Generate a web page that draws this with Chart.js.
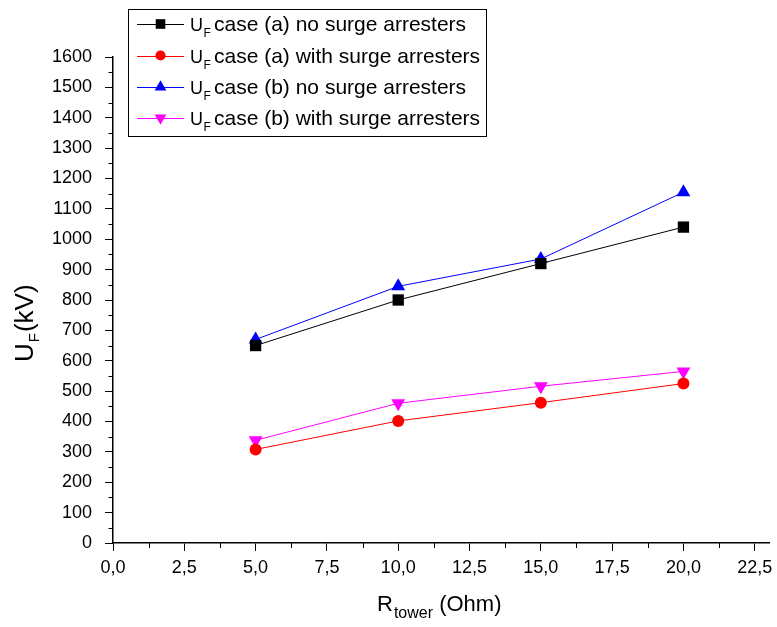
<!DOCTYPE html>
<html>
<head>
<meta charset="utf-8">
<script src="https://cdn.jsdelivr.net/npm/chart.js@4.4.1/dist/chart.umd.min.js"></script>
<style>
  html, body { margin: 0; padding: 0; background: #fff; }
  #wrap { position: relative; width: 777px; height: 627px; }
</style>
</head>
<body>
<div id="wrap"><canvas id="c" width="777" height="627"></canvas></div>
<script>
// ---- data ----
const rTower = [5, 10, 15, 20];
const caseA_noArr   = [650, 800, 920, 1040];
const caseA_withArr = [308, 402, 462, 525];
const caseB_noArr   = [670, 845, 935, 1155];
const caseB_withArr = [338, 460, 516, 565];
const seriesNames = [
  "case (a) no surge arresters",
  "case (a) with surge arresters",
  "case (b) no surge arresters",
  "case (b) with surge arresters"
];
const xTickValues = [0, 2.5, 5, 7.5, 10, 12.5, 15, 17.5, 20, 22.5];
const xTickLabels = ["0,0", "2,5", "5,0", "7,5", "10,0", "12,5", "15,0", "17,5", "20,0", "22,5"];
const yTickValues = [0,100,200,300,400,500,600,700,800,900,1000,1100,1200,1300,1400,1500,1600];
const yTickLabels = yTickValues.map(String);

const FONT = "'Liberation Sans', Arial, Helvetica, sans-serif";

const styles = [
  { color: '#000000', pointStyle: 'rect', radius: 8, rotation: 0 },
  { color: '#ff0000', pointStyle: 'circle', radius: 6, rotation: 0 },
  { color: '#0000ff', pointStyle: 'triangle', radius: 8, rotation: 0 },
  { color: '#ff00ff', pointStyle: 'triangle', radius: 8, rotation: 180 }
];
const seriesValues = [caseA_noArr, caseA_withArr, caseB_noArr, caseB_withArr];

const datasets = seriesValues.map((vals, i) => ({
  label: 'U_F ' + seriesNames[i],
  data: rTower.map((x, j) => ({ x: x, y: vals[j] })),
  showLine: true,
  borderColor: styles[i].color,
  backgroundColor: styles[i].color,
  borderWidth: 1,
  pointStyle: styles[i].pointStyle,
  pointRadius: styles[i].radius,
  pointRotation: styles[i].rotation,
  pointBorderWidth: 0,
  pointBackgroundColor: styles[i].color,
  pointBorderColor: styles[i].color,
  tension: 0
}));

const decorPlugin = {
  id: 'decor',
  afterDraw(chart) {
    const ctx = chart.ctx;
    const xs = chart.scales.x, ys = chart.scales.y;
    ctx.save();
    // minor ticks
    ctx.strokeStyle = '#000';
    ctx.lineWidth = 1;
    ctx.beginPath();
    for (let v = 50; v < 1600; v += 100) {
      const py = Math.round(ys.getPixelForValue(v)) + 0.5;
      ctx.moveTo(xs.left, py); ctx.lineTo(xs.left - 4.5, py);
    }
    for (let v = 1.25; v < 23; v += 2.5) {
      const px = Math.round(xs.getPixelForValue(v)) + 0.5;
      ctx.moveTo(px, ys.bottom); ctx.lineTo(px, ys.bottom + 5);
    }
    ctx.stroke();

    // axis titles
    ctx.fillStyle = '#000';
    ctx.textBaseline = 'alphabetic';
    ctx.textAlign = 'left';
    // x title: R_tower (Ohm)
    let x0 = 377, by = 611;
    ctx.font = '22px ' + FONT;
    ctx.fillText('R', x0, by);
    let w = ctx.measureText('R').width;
    ctx.font = '16px ' + FONT;
    ctx.fillText('tower', x0 + w + 1, by + 7);
    let w2 = ctx.measureText('tower').width;
    ctx.font = '22px ' + FONT;
    ctx.fillText(' (Ohm)', x0 + w + 1 + w2, by);

    // y title: U_F(kV) rotated
    ctx.save();
    ctx.translate(33, 362);
    ctx.rotate(-Math.PI / 2);
    ctx.font = '26px ' + FONT;
    ctx.fillText('U', 0, 0);
    w = ctx.measureText('U').width;
    ctx.font = '15px ' + FONT;
    ctx.fillText('F', w + 1, 6);
    w2 = ctx.measureText('F').width;
    ctx.font = '26px ' + FONT;
    ctx.fillText('(kV)', w + 1 + w2 + 1, 0);
    ctx.restore();

    // legend box
    ctx.lineWidth = 1;
    ctx.strokeStyle = '#000';
    ctx.fillStyle = '#fff';
    ctx.fillRect(128.5, 9.5, 358, 127);
    ctx.strokeRect(128.5, 9.5, 358, 127);
    const rows = [24, 55.5, 87, 118];
    rows.forEach((ry, i) => {
      const s = styles[i];
      ctx.strokeStyle = s.color;
      ctx.lineWidth = 1;
      ctx.beginPath();
      ctx.moveTo(137, Math.round(ry) + 0.5);
      ctx.lineTo(184, Math.round(ry) + 0.5);
      ctx.stroke();
      ctx.fillStyle = s.color;
      Chart.helpers.drawPoint(ctx, {
        pointStyle: s.pointStyle, radius: s.radius * 0.85, rotation: s.rotation, borderWidth: 0
      }, 160.5, ry);
      ctx.fillStyle = '#000';
      const tb = ry + 7;
      ctx.font = '18px ' + FONT;
      ctx.fillText('U', 190, tb);
      const uw = ctx.measureText('U').width;
      ctx.font = '12px ' + FONT;
      ctx.fillText('F', 190 + uw + 0.5, tb + 6);
      ctx.font = '21px ' + FONT;
      ctx.fillText(seriesNames[i], 214, tb);
    });
    ctx.restore();
  }
};

new Chart(document.getElementById('c'), {
  type: 'scatter',
  data: { datasets: datasets },
  plugins: [decorPlugin],
  options: {
    responsive: false,
    animation: false,
    devicePixelRatio: 1,
    layout: { padding: { top: 57, right: 6, left: 0, bottom: 0 } },
    plugins: { legend: { display: false }, tooltip: { enabled: false } },
    scales: {
      x: {
        type: 'linear',
        min: 0, max: 23,
        afterFit(scale) { scale.height = 84; scale.paddingRight = 0; scale.paddingLeft = 0; },
        afterBuildTicks(scale) { scale.ticks = xTickValues.map(v => ({ value: v })); },
        ticks: {
          color: '#000',
          font: { family: FONT, size: 18 },
          padding: 6,
          maxRotation: 0,
          autoSkip: false,
          callback(v) { const i = xTickValues.indexOf(v); return i >= 0 ? xTickLabels[i] : ''; }
        },
        grid: { drawOnChartArea: false, drawTicks: true, tickLength: 8, color: '#000', lineWidth: 1 },
        border: { display: true, color: '#000', width: 1.5 }
      },
      y: {
        type: 'linear',
        min: 0, max: 1600,
        afterFit(scale) { scale.width = 113; },
        afterBuildTicks(scale) { scale.ticks = yTickValues.map(v => ({ value: v })); },
        ticks: {
          color: '#000',
          font: { family: FONT, size: 18 },
          padding: 13,
          autoSkip: false,
          callback(v) { const i = yTickValues.indexOf(v); return i >= 0 ? yTickLabels[i] : ''; }
        },
        grid: { drawOnChartArea: false, drawTicks: true, tickLength: 8, color: '#000', lineWidth: 1 },
        border: { display: true, color: '#000', width: 1.5 }
      }
    }
  }
});
</script>
</body>
</html>
